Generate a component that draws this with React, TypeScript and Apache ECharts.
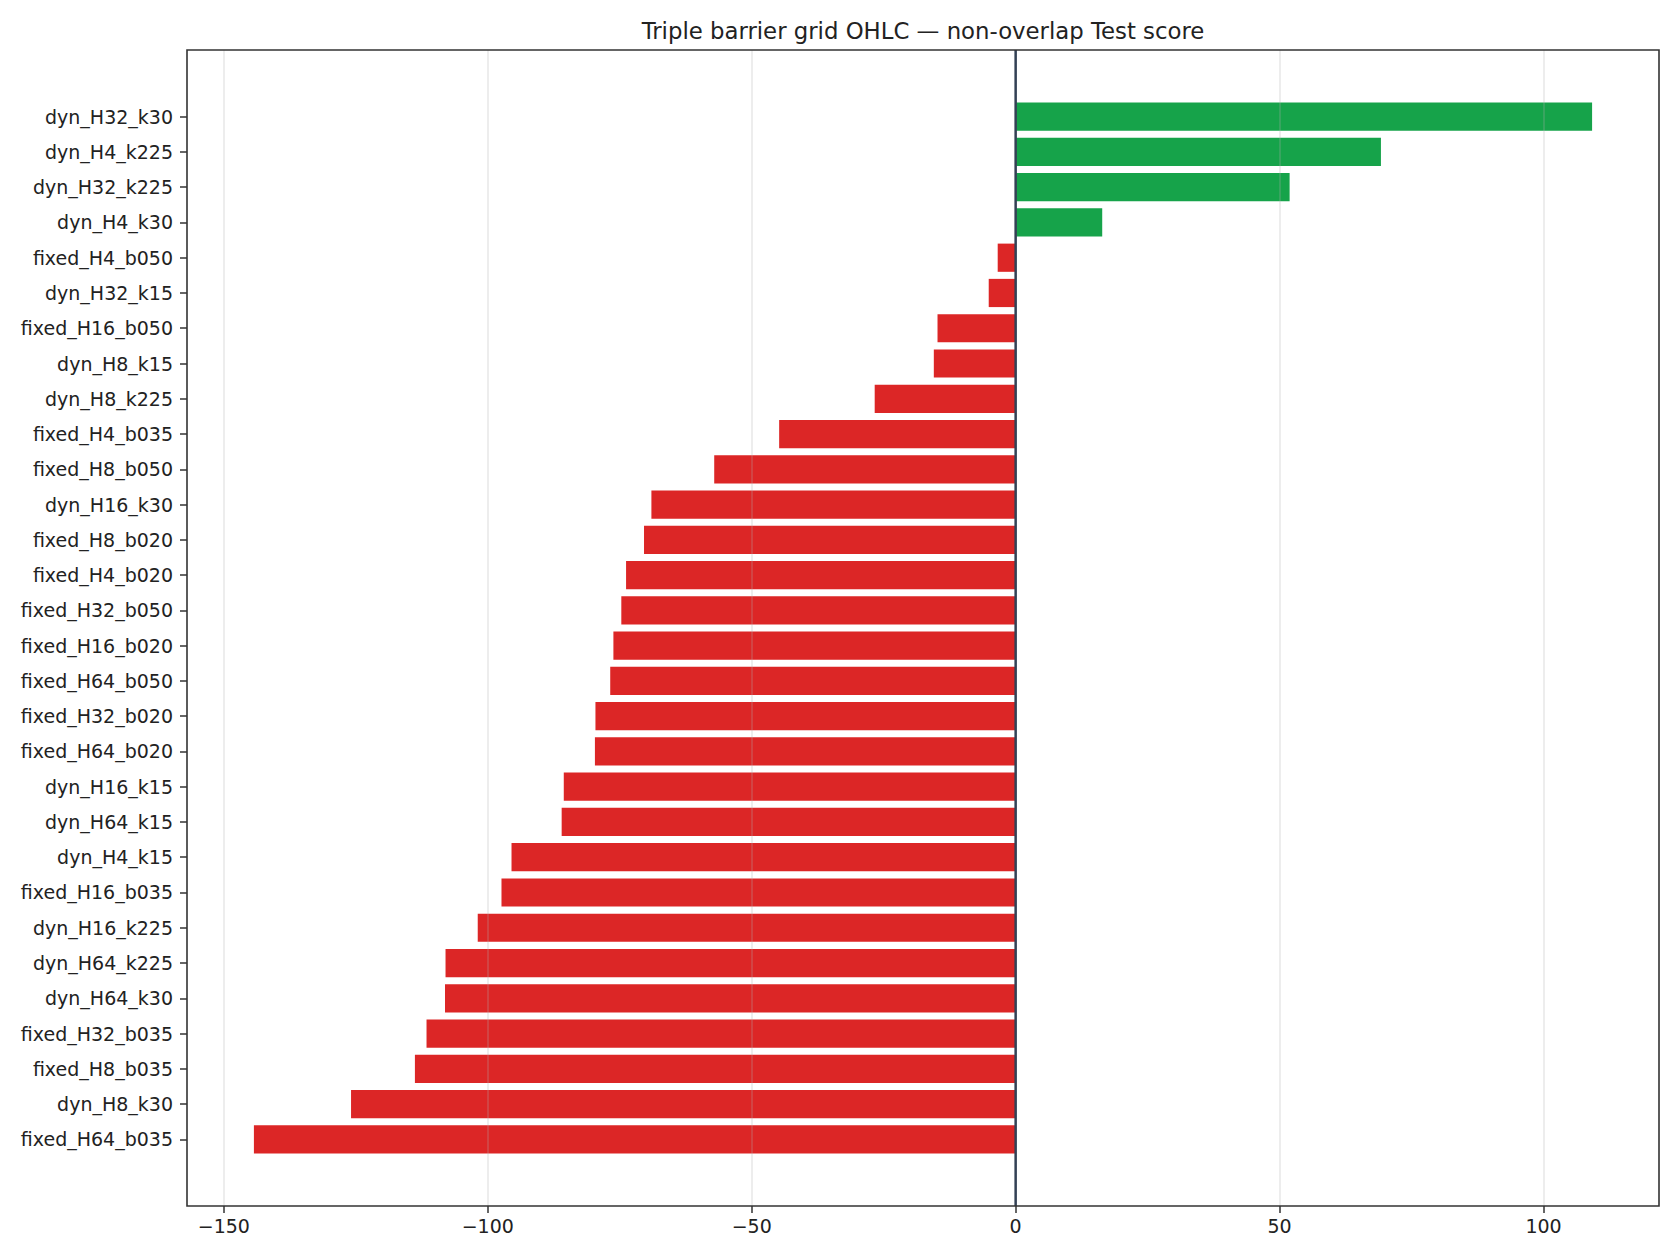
import React, { useEffect, useRef } from "react";
import * as echarts from "echarts";

const categories: string[] = [
  "dyn_H32_k30", "dyn_H4_k225", "dyn_H32_k225", "dyn_H4_k30", "fixed_H4_b050",
  "dyn_H32_k15", "fixed_H16_b050", "dyn_H8_k15", "dyn_H8_k225", "fixed_H4_b035",
  "fixed_H8_b050", "dyn_H16_k30", "fixed_H8_b020", "fixed_H4_b020", "fixed_H32_b050",
  "fixed_H16_b020", "fixed_H64_b050", "fixed_H32_b020", "fixed_H64_b020", "dyn_H16_k15",
  "dyn_H64_k15", "dyn_H4_k15", "fixed_H16_b035", "dyn_H16_k225", "dyn_H64_k225",
  "dyn_H64_k30", "fixed_H32_b035", "fixed_H8_b035", "dyn_H8_k30", "fixed_H64_b035",
];

const scores: number[] = [
  109.2, 69.2, 51.9, 16.4, -3.4,
  -5.1, -14.8, -15.5, -26.7, -44.8,
  -57.1, -69.0, -70.4, -73.8, -74.7,
  -76.2, -76.8, -79.6, -79.7, -85.6,
  -86.0, -95.5, -97.4, -101.9, -108.0,
  -108.1, -111.6, -113.8, -125.9, -144.3,
];

const xTickMin = -150;
const xTickMax = 100;
const xTickStep = 50;

const TITLE = "Triple barrier grid OHLC \u2014 non-overlap Test score";

const W = 1680;
const H = 1260;
const FONT = "DejaVu Sans";

export default function App() {
  const ref = useRef<HTMLDivElement>(null);

  useEffect(() => {
    document.body.style.margin = "0";
    if (!ref.current) return;
    const chart = echarts.init(ref.current, undefined, { renderer: "svg" });

    const dMin = Math.min(...scores);
    const dMax = Math.max(...scores);
    const pad = 0.05 * (dMax - dMin);
    const xMin = dMin - pad;
    const xMax = dMax + pad;

    // frame (axes box) in pixels
    const fL = 187, fR = 1659, fT = 50, fB = 1206;
    const pxPerUnit = (fR - fL) / (xMax - xMin);
    const tickL = fL + (xTickMin - xMin) * pxPerUnit;
    const tickR = fL + (xTickMax - xMin) * pxPerUnit;

    // category band placement (matplotlib: ylim = [-0.4 - m, n-1+0.4 + m])
    const n = categories.length;
    const lo = -0.4, hi = n - 1 + 0.4;
    const m = 0.05 * (hi - lo);
    const unit = (fB - fT) / (hi - lo + 2 * m);
    const bandTop = fT + (m + 0.4 - 0.5) * unit;
    const bandBottom = fB - (m + 0.4 - 0.5) * unit;

    const fmt = (v: number) => (v < 0 ? "\u2212" + Math.abs(v) : String(v));

    chart.setOption({
      animation: false,
      backgroundColor: "#ffffff",
      textStyle: { fontFamily: FONT },
      title: {
        text: TITLE,
        left: (fL + fR) / 2 - 5,
        textAlign: "center",
        top: 14,
        textStyle: { fontFamily: FONT, fontSize: 22.8, fontWeight: "normal", color: "#222222" },
      },
      grid: [
        { left: fL, right: W - fR, top: bandTop, bottom: H - bandBottom, containLabel: false },
        { left: tickL, right: W - tickR, top: fT, bottom: H - fB, containLabel: false },
      ],
      xAxis: [
        {
          type: "value",
          gridIndex: 0,
          min: xMin,
          max: xMax,
          show: false,
        },
        {
          type: "value",
          gridIndex: 1,
          min: xTickMin,
          max: xTickMax,
          interval: xTickStep,
          z: 3,
          axisLine: { show: false, onZero: false },
          axisTick: { show: true, length: 7, inside: false, lineStyle: { color: "#333333", width: 1.5 } },
          axisLabel: {
            show: true,
            margin: 10,
            fontFamily: FONT,
            fontSize: 19,
            color: "#222222",
            formatter: fmt,
          },
          splitLine: { show: true, lineStyle: { color: "rgba(176,176,176,0.3)", width: 1.5 } },
        },
      ],
      yAxis: [
        {
          type: "category",
          gridIndex: 0,
          data: categories,
          inverse: true,
          position: "left",
          axisLine: { show: false, onZero: false },
          axisTick: { show: true, length: 7, alignWithLabel: true, lineStyle: { color: "#333333", width: 1.5 } },
          axisLabel: { margin: 14, fontFamily: FONT, fontSize: 19, color: "#222222" },
          splitLine: { show: false },
        },
        {
          type: "value",
          gridIndex: 1,
          min: 0,
          max: 1,
          show: false,
        },
      ],
      series: [
        {
          type: "bar",
          xAxisIndex: 0,
          yAxisIndex: 0,
          data: scores,
          barCategoryGap: "20%",
          z: 2,
          itemStyle: {
            color: (p: any) => (p.value >= 0 ? "#16a34a" : "#dc2626"),
          },
        },
        {
          type: "line",
          xAxisIndex: 1,
          yAxisIndex: 1,
          data: [[0, 0], [0, 1]],
          symbol: "none",
          z: 5,
          lineStyle: { color: "#334155", width: 2.5 },
          silent: true,
        },
      ],
      graphic: [
        {
          type: "rect",
          z: 10,
          silent: true,
          shape: { x: fL, y: fT, width: fR - fL, height: fB - fT },
          style: { fill: "transparent", stroke: "#333333", lineWidth: 1.6 },
        },
      ],
    });

    return () => {
      chart.dispose();
    };
  }, []);

  return <div ref={ref} style={{ width: W, height: H }} />;
}
